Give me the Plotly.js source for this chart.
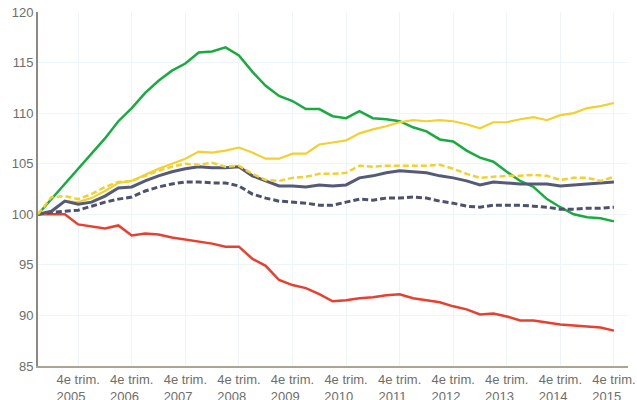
<!DOCTYPE html>
<html>
<head>
<meta charset="utf-8">
<script src="https://cdn.plot.ly/plotly-3.0.1.min.js"></script>
<style>html,body{margin:0;padding:0;background:#fff;}#chart{width:637px;height:400px;}</style>
</head>
<body>
<div id="chart"></div>
<script>
const years = [2005,2006,2007,2008,2009,2010,2011,2012,2013,2014,2015];
const quarters = [];
years.forEach(y => { for (let q = 1; q <= 4; q++) quarters.push(q + 'T' + y); });
const tickQuarters = years.map(y => '4T' + y);
const tickLabels = years.map(y => '4e trim.<br>' + y + '&nbsp;&nbsp;&nbsp;&nbsp;');

const green = [100,101.5,103.0,104.5,106.0,107.5,109.2,110.5,112.0,113.2,114.2,114.9,116.0,116.1,116.5,115.7,114.1,112.7,111.7,111.2,110.4,110.4,109.7,109.5,110.2,109.5,109.4,109.2,108.6,108.2,107.4,107.2,106.3,105.6,105.2,104.2,103.3,102.7,101.5,100.7,100.0,99.7,99.6,99.3];
const yellow = [100,100.2,101.3,101.2,101.6,102.3,103.1,103.3,103.9,104.5,105.0,105.5,106.2,106.1,106.3,106.6,106.1,105.5,105.5,106.0,106.0,106.9,107.1,107.3,108.0,108.4,108.7,109.1,109.3,109.2,109.3,109.2,108.9,108.5,109.1,109.1,109.4,109.6,109.3,109.8,110.0,110.5,110.7,111.0];
const yellowDash = [100,101.7,101.8,101.5,102.0,102.7,103.2,103.3,103.8,104.3,104.7,105.0,104.9,105.1,104.7,104.8,104.0,103.4,103.3,103.6,103.7,104.0,104.0,104.1,104.8,104.7,104.8,104.8,104.8,104.8,104.9,104.5,104.0,103.6,103.7,103.8,103.8,103.9,103.8,103.4,103.6,103.6,103.3,103.7];
const dark = [100,100.3,101.3,101.0,101.2,101.8,102.6,102.7,103.3,103.8,104.2,104.5,104.7,104.6,104.6,104.7,103.8,103.3,102.8,102.8,102.7,102.9,102.8,102.9,103.6,103.8,104.1,104.3,104.2,104.1,103.8,103.6,103.3,102.9,103.2,103.1,103.0,103.0,103.0,102.8,102.9,103.0,103.1,103.2];
const darkDash = [100,100.2,100.3,100.4,100.8,101.2,101.5,101.7,102.3,102.7,103.0,103.2,103.2,103.1,103.1,102.8,102.0,101.6,101.3,101.2,101.1,100.9,100.9,101.2,101.5,101.4,101.6,101.6,101.7,101.6,101.3,101.1,100.8,100.7,100.9,100.9,100.9,100.8,100.7,100.5,100.5,100.6,100.6,100.7];
const red = [100,100.0,100.0,99.0,98.8,98.6,98.9,97.9,98.1,98.0,97.7,97.5,97.3,97.1,96.8,96.8,95.6,94.9,93.5,93.0,92.7,92.1,91.4,91.5,91.7,91.8,92.0,92.1,91.7,91.5,91.3,90.9,90.6,90.1,90.2,89.9,89.5,89.5,89.3,89.1,89.0,88.9,88.8,88.5];
const yTicks = [85,90,95,100,105,110,115,120];

function tr(y, color, width, dash) {
  return {x: quarters, y: y, type: 'scatter', mode: 'lines',
    line: {color: color, width: width, dash: dash || 'solid'}, hoverinfo: 'skip'};
}
const data = [
  tr(red, '#e8402f', 2.5),
  tr(green, '#1aab40', 2.5),
  tr(yellow, '#f2d12e', 2.2),
  tr(darkDash, '#4c5170', 3, '6px,3px'),
  tr(dark, '#555a78', 3),
  tr(yellowDash, '#f2d12e', 2.5, '6px,3px')
];
const layout = {
  width: 637, height: 400,
  margin: {l: 38, r: 9, t: 12, b: 34},
  showlegend: false,
  paper_bgcolor: '#fff', plot_bgcolor: '#fff',
  font: {family: 'Liberation Sans, Arial, sans-serif', size: 13, color: '#6e6e6a'},
  xaxis: {type: 'category', range: [0, 44.05], tickvals: tickQuarters, ticktext: tickLabels,
    showgrid: true, gridcolor: '#eef5f8', gridwidth: 1, zeroline: false,
    showline: true, linecolor: '#a8a594', linewidth: 2, ticks: '', tickangle: 0,
    tickfont: {size: 13, color: '#6e6e6a'}},
  yaxis: {range: [85, 120], tickvals: yTicks, showgrid: true, gridcolor: '#eef5f8', gridwidth: 1,
    zeroline: false, showline: true, linecolor: '#8c8a80', linewidth: 2, ticks: '',
    tickfont: {size: 13, color: '#6e6e6a'}}
};
Plotly.newPlot('chart', data, layout, {staticPlot: true, displayModeBar: false});
</script>
</body>
</html>
